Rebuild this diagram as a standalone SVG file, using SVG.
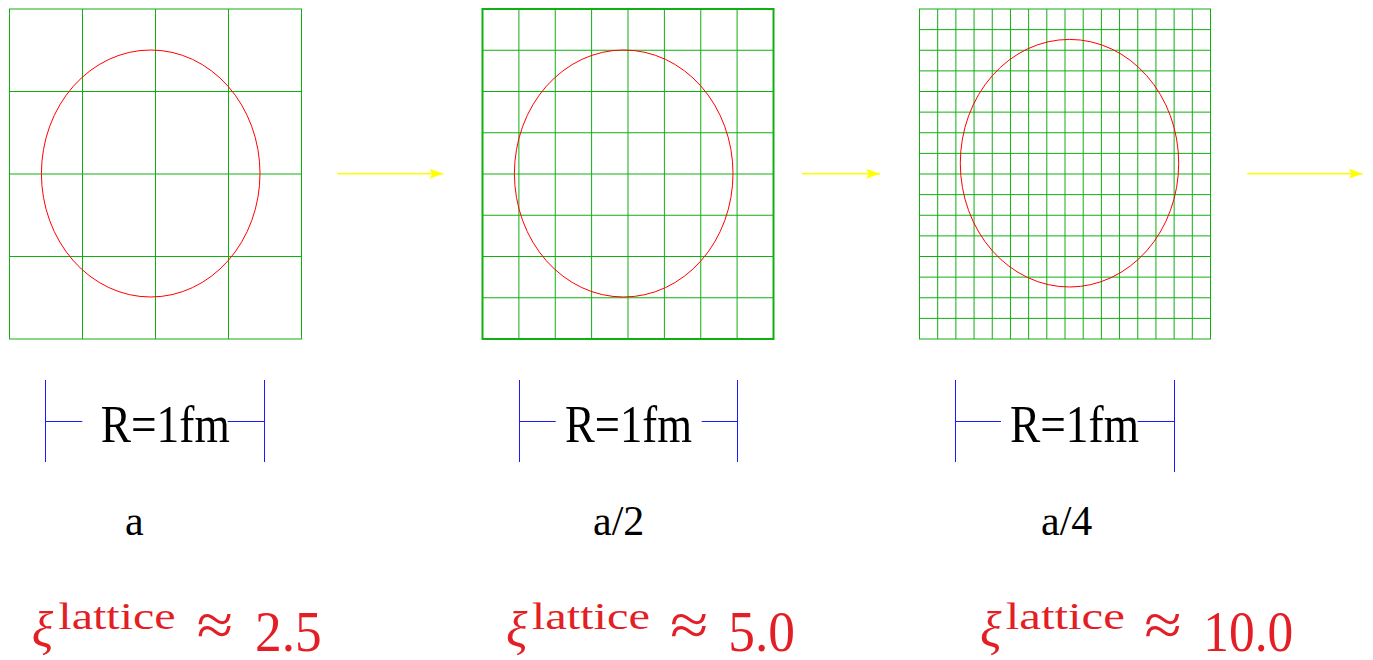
<svg xmlns="http://www.w3.org/2000/svg" width="1373" height="660" viewBox="0 0 1373 660">
<style>
.grid{fill:none;stroke:#10b010;stroke-width:1}
.circ{fill:none;stroke:#ff0000;stroke-width:1}
.arrow{stroke:#ffff00;stroke-width:1.5;fill:none}
.br{stroke:#1a1aff;stroke-width:1;fill:none}
.lbl{font-family:"Liberation Serif","Times New Roman",serif;fill:#000}
.xi{font-family:"Liberation Serif","Times New Roman",serif;fill:#e31e24}
</style>
<defs>
<marker id="ah" markerWidth="14" markerHeight="10" refX="14" refY="5" orient="auto" markerUnits="userSpaceOnUse">
<path d="M0,0 L14,5 L0,10 L3,5 Z" fill="#ffff00"/>
</marker>
</defs>
<rect width="1373" height="660" fill="#fff"/>
<g id="lattice-a">
<rect class="grid" x="9.5" y="9" width="292" height="330"/>
<path class="grid" d="M82.5,9V339M155.5,9V339M228.5,9V339M9.5,91.5H301.5M9.5,174H301.5M9.5,256.5H301.5"/>
<ellipse class="circ" cx="150.7" cy="173.5" rx="109.3" ry="123.5"/>
</g>
<g id="lattice-a2">
<rect class="grid" x="482.5" y="9" width="291" height="330" style="stroke-width:2"/>
<path class="grid" d="M518.9,9V339M555.25,9V339M591.6,9V339M628,9V339M664.4,9V339M700.75,9V339M737.1,9V339M482.5,50.25H773.5M482.5,91.5H773.5M482.5,132.75H773.5M482.5,174H773.5M482.5,215.25H773.5M482.5,256.5H773.5M482.5,297.75H773.5"/>
<ellipse class="circ" cx="623.7" cy="173.5" rx="109.3" ry="123.5"/>
</g>
<g id="lattice-a4">
<rect class="grid" x="919.5" y="9" width="291" height="330"/>
<path class="grid" d="M937.69,9V339M955.88,9V339M974.06,9V339M992.25,9V339M1010.44,9V339M1028.63,9V339M1046.81,9V339M1065,9V339M1083.19,9V339M1101.38,9V339M1119.56,9V339M1137.75,9V339M1155.94,9V339M1174.13,9V339M1192.31,9V339M919.5,29.63H1210.5M919.5,50.25H1210.5M919.5,70.88H1210.5M919.5,91.5H1210.5M919.5,112.13H1210.5M919.5,132.75H1210.5M919.5,153.38H1210.5M919.5,174H1210.5M919.5,194.63H1210.5M919.5,215.25H1210.5M919.5,235.88H1210.5M919.5,256.5H1210.5M919.5,277.13H1210.5M919.5,297.75H1210.5M919.5,318.38H1210.5"/>
<ellipse class="circ" cx="1069.5" cy="163.2" rx="109.2" ry="123.8"/>
</g>
<g id="connectors">
<line class="arrow" x1="337.3" y1="173.7" x2="443.3" y2="173.7" marker-end="url(#ah)"/>
<line class="arrow" x1="802" y1="173.7" x2="880" y2="173.7" marker-end="url(#ah)"/>
<line class="arrow" x1="1247.3" y1="173.7" x2="1362.7" y2="173.7" marker-end="url(#ah)"/>
</g>
<g id="scale-a">
<path class="br" d="M45.5,380V462M45.5,421.5H82.3M227.7,421.5H264.5M264.5,380V462"/>
<text class="lbl" x="100.7" y="442" font-size="52" textLength="129" lengthAdjust="spacingAndGlyphs">R=1fm</text>
</g>
<g id="scale-a2">
<path class="br" d="M519.5,380V462M519.5,421.5H555.7M701.7,421.5H737.5M737.5,380V462"/>
<text class="lbl" x="565" y="442" font-size="52" textLength="127" lengthAdjust="spacingAndGlyphs">R=1fm</text>
</g>
<g id="scale-a4">
<path class="br" d="M955.5,380V462M955.5,421.5H1001M1137.7,421.5H1174.5M1174.5,380V472"/>
<text class="lbl" x="1010" y="442" font-size="52" textLength="129" lengthAdjust="spacingAndGlyphs">R=1fm</text>
</g>
<g id="label-a"><text class="lbl" x="125" y="535" font-size="42">a</text></g>
<g id="label-a2"><text class="lbl" x="593" y="535" font-size="42">a/2</text></g>
<g id="label-a4"><text class="lbl" x="1041" y="535" font-size="42">a/4</text></g>
<g id="xi-a">
<text class="xi" x="31.7" y="647" font-size="50" font-style="italic">ξ</text>
<text class="xi" x="58.3" y="629.3" font-size="38" textLength="117.4" lengthAdjust="spacingAndGlyphs">lattice</text>
<text class="xi" x="196.7" y="645" font-size="60" textLength="36.3" lengthAdjust="spacingAndGlyphs">≈</text>
<text class="xi" x="255" y="650.7" font-size="56" textLength="66.7" lengthAdjust="spacingAndGlyphs">2.5</text>
</g>
<g id="xi-a2">
<text class="xi" x="506" y="647" font-size="50" font-style="italic">ξ</text>
<text class="xi" x="531.7" y="629.3" font-size="38" textLength="118.3" lengthAdjust="spacingAndGlyphs">lattice</text>
<text class="xi" x="670" y="645" font-size="60" textLength="38.3" lengthAdjust="spacingAndGlyphs">≈</text>
<text class="xi" x="728.3" y="650.7" font-size="56" textLength="66.7" lengthAdjust="spacingAndGlyphs">5.0</text>
</g>
<g id="xi-a4">
<text class="xi" x="980" y="647" font-size="50" font-style="italic">ξ</text>
<text class="xi" x="1005.7" y="629.3" font-size="38" textLength="119.3" lengthAdjust="spacingAndGlyphs">lattice</text>
<text class="xi" x="1144.3" y="645" font-size="60" textLength="37.4" lengthAdjust="spacingAndGlyphs">≈</text>
<text class="xi" x="1203.3" y="650.7" font-size="56" textLength="90" lengthAdjust="spacingAndGlyphs">10.0</text>
</g>
</svg>
